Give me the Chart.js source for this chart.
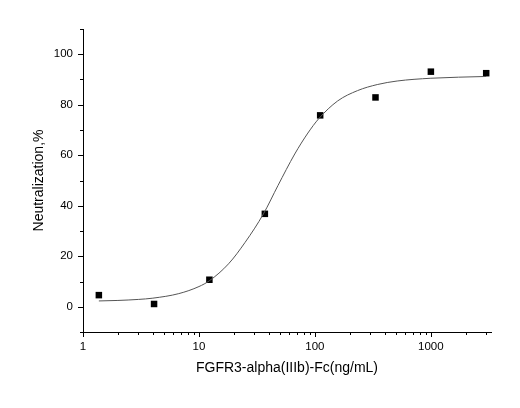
<!DOCTYPE html>
<html>
<head>
<meta charset="utf-8">
<script src="https://cdn.jsdelivr.net/npm/chart.js@4.4.1/dist/chart.umd.min.js"></script>
<style>
  html, body { margin: 0; padding: 0; background: #fff; }
  #wrap { width: 520px; height: 408px; }
</style>
</head>
<body>
<div id="wrap"><canvas id="chart" width="520" height="408"></canvas></div>
<script>
// measured points (concentration ng/mL, neutralization %)
const concentrations = [1.37, 4.1, 12.3, 37, 111, 333, 1000, 3000];
const neutralization = [4.6, 1.1, 10.7, 36.8, 75.8, 82.9, 93.1, 92.5];

// fitted curve
const fitX = [1.37, 2, 3, 4, 6.7, 10, 12.3, 18, 25, 36, 48, 67, 87, 108, 157, 233, 345, 512, 1000, 3000];
const fitY = [2.3, 2.5, 2.9, 3.4, 5.2, 8.0, 10.3, 17.0, 25.5, 36.8, 48.0, 60.5, 68.8, 74.5, 81.5, 85.6, 88.0, 89.4, 90.5, 91.2];

// axis ticks
const xMajorTicks = [1, 10, 100, 1000];
const xAllTicks = [1, 2, 3, 4, 5, 6, 7, 8, 9, 10, 20, 30, 40, 50, 60, 70, 80, 90,
                   100, 200, 300, 400, 500, 600, 700, 800, 900, 1000, 2000, 3000];
const yMajorTicks = [0, 20, 40, 60, 80, 100];

const FONT = '"Liberation Sans", Arial, sans-serif';

// draws outward tick marks, long for major ticks and short for minor ones
const tickMarks = {
    id: 'tickMarks',
    afterDraw(chart) {
        const ctx = chart.ctx;
        const xs = chart.scales.x;
        const ys = chart.scales.y;
        ctx.save();
        ctx.strokeStyle = '#000';
        ctx.lineWidth = 1;
        ctx.beginPath();
        xs.ticks.forEach(t => {
            const px = Math.round(xs.getPixelForValue(t.value)) + 0.5;
            const len = xMajorTicks.includes(t.value) ? 5 : 3;
            ctx.moveTo(px, xs.top);
            ctx.lineTo(px, xs.top + len);
        });
        ys.ticks.forEach(t => {
            const py = Math.round(ys.getPixelForValue(t.value)) + 0.5;
            const len = yMajorTicks.includes(t.value) ? 5 : 3;
            ctx.moveTo(ys.right, py);
            ctx.lineTo(ys.right - len, py);
        });
        ctx.stroke();
        ctx.restore();
    }
};

new Chart(document.getElementById('chart'), {
    type: 'scatter',
    data: {
        datasets: [
            {
                label: 'fit',
                type: 'line',
                data: fitX.map((x, i) => ({x: x, y: fitY[i]})),
                borderColor: '#555',
                borderWidth: 1,
                pointRadius: 0,
                cubicInterpolationMode: 'monotone',
                fill: false
            },
            {
                label: 'data',
                data: concentrations.map((x, i) => ({x: x, y: neutralization[i]})),
                pointStyle: 'rect',
                pointRadius: 4.6,
                pointBorderWidth: 0,
                backgroundColor: '#000',
                borderColor: '#000'
            }
        ]
    },
    options: {
        responsive: false,
        animation: false,
        layout: { padding: { top: 29, right: 29, left: 0, bottom: 0 } },
        plugins: {
            legend: { display: false },
            tooltip: { enabled: false }
        },
        scales: {
            x: {
                type: 'logarithmic',
                min: 1,
                max: 3300,
                afterBuildTicks: scale => {
                    scale.ticks = xAllTicks.map(v => ({value: v, major: xMajorTicks.includes(v)}));
                },
                afterFit: scale => { scale.height = 76; },
                grid: { display: false, drawTicks: true, tickLength: 5 },
                border: { display: true, color: '#000', width: 1 },
                ticks: {
                    autoSkip: false,
                    maxRotation: 0,
                    padding: 3,
                    color: '#000',
                    font: { family: FONT, size: 11.5 },
                    callback: v => xMajorTicks.includes(v) ? String(v) : ''
                },
                title: {
                    display: true,
                    text: 'FGFR3-alpha(IIIb)-Fc(ng/mL)',
                    color: '#000',
                    font: { family: FONT, size: 14 },
                    padding: { top: 0, bottom: 31 }
                }
            },
            y: {
                min: -10,
                max: 110,
                afterBuildTicks: scale => {
                    const t = [];
                    for (let v = -10; v <= 110; v += 10) t.push({value: v});
                    scale.ticks = t;
                },
                afterFit: scale => { scale.width = 83; },
                grid: { display: false, drawTicks: true, tickLength: 5 },
                border: { display: true, color: '#000', width: 1 },
                ticks: {
                    autoSkip: false,
                    padding: 5,
                    color: '#000',
                    font: { family: FONT, size: 11.5 },
                    callback: v => yMajorTicks.includes(v) ? String(v) : ''
                },
                title: {
                    display: true,
                    text: 'Neutralization,%',
                    color: '#000',
                    font: { family: FONT, size: 14 },
                    padding: { top: 31, bottom: 0 }
                }
            }
        }
    },
    plugins: [tickMarks]
});
</script>
</body>
</html>
